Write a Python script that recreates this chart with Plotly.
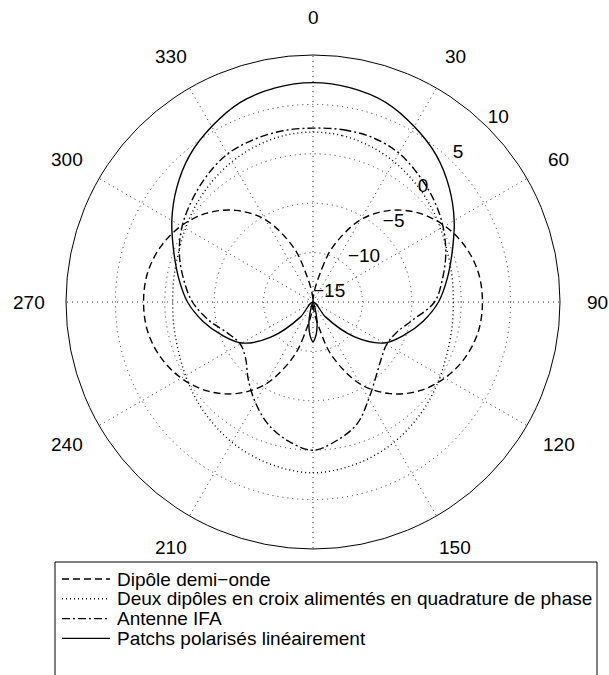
import math
import plotly.graph_objects as go

# Radial scale (dBi): the centre of the chart is the floor value
FLOOR = -15.0
TOP = 10.0
FONT = "Liberation Sans, Arial, Helvetica, sans-serif"
FONT_SIZE = 19

# Angular tick labels (degrees, clockwise from the top); 180 sits under the legend
angle_ticks = [0, 30, 60, 90, 120, 150, 180, 210, 240, 270, 300, 330]
angle_labels = ["0", "30", "60", "90", "120", "150", "180", "210", "240", "270", "300", "330"]
# Radial tick labels
radial_ticks = [-15, -10, -5, 0, 5, 10]

# Dipôle demi-onde
dipole_theta = [0, 15, 20, 30, 40, 50, 60, 70, 80, 90, 100, 110, 120, 130, 140, 150, 160, 165, 180,
                195, 200, 210, 220, 230, 240, 250, 260, 270, 280, 290, 300, 310, 320, 330, 340, 345, 360]
dipole_gain = [-15, -11.5, -9.0, -5.4, -2.9, -1.0, 0.4, 1.4, 2.0, 2.15, 2.0, 1.4, 0.4, -1.0, -2.9, -5.4, -9.0, -11.5, -15,
               -11.5, -9.0, -5.4, -2.9, -1.0, 0.4, 1.4, 2.0, 2.15, 2.0, 1.4, 0.4, -1.0, -2.9, -5.4, -9.0, -11.5, -15]

# Deux dipôles en croix alimentés en quadrature de phase
cross_theta = list(range(0, 361, 10))
cross_gain = [2.2, 2.1, 1.8, 1.4, 0.9, 0.4, -0.1, -0.5, -0.7, -0.8,
              -0.7, -0.5, -0.1, 0.4, 0.9, 1.4, 1.8, 2.1, 2.3,
              2.1, 1.8, 1.4, 0.9, 0.4, -0.1, -0.5, -0.7, -0.8,
              -0.7, -0.5, -0.1, 0.4, 0.9, 1.4, 1.8, 2.1, 2.2]

# Antenne IFA
ifa_theta = list(range(0, 361, 10))
ifa_gain = [2.6, 2.7, 2.7, 2.4, 1.7, 1.0, 0.2, -0.7, -1.7, -2.7,
            -4.7, -6.0, -6.4, -6.0, -5.1, -3.7, -1.9, -0.8, 0.0,
            -0.7, -1.8, -3.3, -4.8, -6.1, -6.5, -5.8, -4.3, -2.8,
            -1.7, -0.6, 0.3, 1.0, 1.7, 2.3, 2.5, 2.6, 2.6]

# Patchs polarisés linéairement
patch_theta = [0, 10, 20, 30, 40, 50, 60, 70, 80, 90, 100, 110, 120, 130, 140, 150,
               165, 170, 175, 180, 185, 190, 195,
               210, 220, 230, 240, 250, 260, 270, 280, 290, 300, 310, 320, 330, 340, 350, 360]
patch_gain = [7.2, 7.0, 6.5, 5.5, 4.4, 3.0, 1.5, 0.0, -1.2, -2.3, -3.7, -5.2, -6.7, -9.5, -13.0, -15,
              -13.8, -12.6, -11.6, -11.0, -11.6, -12.6, -13.8,
              -15, -13.0, -9.5, -6.7, -5.2, -3.7, -2.3, -1.2, 0.0, 1.5, 3.0, 4.4, 5.5, 6.5, 7.0, 7.2]

series = [
    ("Dipôle demi\u2212onde", dipole_theta, dipole_gain, "7px,4px"),
    ("Deux dipôles en croix alimentés en quadrature de phase", cross_theta, cross_gain, "1px,3px"),
    ("Antenne IFA", ifa_theta, ifa_gain, "8px,3px,2px,3px"),
    ("Patchs polarisés linéairement", patch_theta, patch_gain, "solid"),
]


def lobe_path(theta, gain):
    """Split a closed 0..360 pattern into lobes at the points that reach the floor,
    so every lobe ends cleanly in the centre instead of looping through it."""
    th = list(theta[:-1])
    g = list(gain[:-1])
    nulls = [i for i, v in enumerate(g) if v <= FLOOR]
    if not nulls:
        return th + [th[0]], g + [g[0]]
    s = nulls[0]
    th = th[s:] + th[:s] + [th[s]]
    g = g[s:] + g[:s] + [g[s]]
    out_t, out_r = [], []
    for i, (t, v) in enumerate(zip(th, g)):
        out_t.append(t)
        out_r.append(v)
        if v <= FLOOR and 0 < i < len(th) - 1:
            out_t += [None, t]
            out_r += [None, v]
    return out_t, out_r


fig = go.Figure()

for name, th, g, dash in series:
    t, r = lobe_path(th, g)
    fig.add_trace(go.Scatterpolar(
        r=r, theta=t, name=name, mode="lines", connectgaps=False,
        line=dict(color="black", width=1.4, dash=dash, shape="spline", smoothing=1.0),
        showlegend=False, hoverinfo="skip",
    ))

# Radial labels along the 45° direction
fig.add_trace(go.Scatterpolar(
    r=radial_ticks, theta=[45] * len(radial_ticks), mode="text",
    text=[str(v).replace("-", "\u2212") for v in radial_ticks],
    textposition="top right", textfont=dict(family=FONT, size=FONT_SIZE, color="black"),
    cliponaxis=False, showlegend=False, hoverinfo="skip",
))

# Page geometry
W, H = 609, 675
CX, CY, RAD = 313, 302, 247
ML, MT = CX - RAD, CY - RAD
MR, MB = W - (CX + RAD), H - (CY + RAD)
PW = W - ML - MR
PH = H - MT - MB


def px(x):
    return (x - ML) / PW


def py(y):
    return (H - MB - y) / PH


grid = dict(gridcolor="#333333", gridwidth=1, griddash="1px,4px")

fig.update_layout(
    width=W, height=H,
    margin=dict(l=ML, r=MR, t=MT, b=MB, pad=0),
    paper_bgcolor="white",
    font=dict(family=FONT, size=FONT_SIZE, color="black"),
    polar=dict(
        domain=dict(x=[0, 1], y=[0, 1]),
        bgcolor="white",
        radialaxis=dict(range=[FLOOR, TOP], tickmode="array", tickvals=[-10, -5, 0, 5],
                        showticklabels=False, ticks="", showline=False, **grid),
        angularaxis=dict(rotation=90, direction="clockwise", tickmode="array",
                         tickvals=angle_ticks, showticklabels=False, ticks="",
                         showline=True, linecolor="black", linewidth=1, **grid),
    ),
)

# Legend box (runs past the bottom edge of the page)
LEG_L, LEG_R, LEG_T = 55, 597, 562
ROW0, ROW_STEP = 579, 19.8
SAMPLE_X0, SAMPLE_X1, TEXT_X = 62, 110, 115

# Angular labels, centred on a circle 1.15 times the outer radius
LABEL_PX = 1.15 * RAD
for a, lab in zip(angle_ticks, angle_labels):
    lx = CX + LABEL_PX * math.sin(math.radians(a))
    ly = CY - LABEL_PX * math.cos(math.radians(a))
    if ly > LEG_T:
        continue  # hidden by the legend box
    fig.add_annotation(xref="paper", yref="paper", x=px(lx), y=py(ly), text=lab,
                       xanchor="center", yanchor="middle", showarrow=False,
                       font=dict(family=FONT, size=FONT_SIZE, color="black"))

fig.add_shape(type="rect", xref="paper", yref="paper",
              x0=px(LEG_L), x1=px(LEG_R), y0=py(LEG_T), y1=py(H + 40),
              line=dict(color="black", width=1), fillcolor="white", layer="above")

for i, (name, _, _, dash) in enumerate(series):
    y = ROW0 + i * ROW_STEP
    fig.add_shape(type="line", xref="paper", yref="paper",
                  x0=px(SAMPLE_X0), x1=px(SAMPLE_X1), y0=py(y), y1=py(y),
                  line=dict(color="black", width=1.4, dash=dash), layer="above")
    fig.add_annotation(xref="paper", yref="paper", x=px(TEXT_X), y=py(y),
                       xanchor="left", yanchor="middle", showarrow=False, text=name,
                       font=dict(family=FONT, size=FONT_SIZE, color="black"))

fig.write_html("out.html")
